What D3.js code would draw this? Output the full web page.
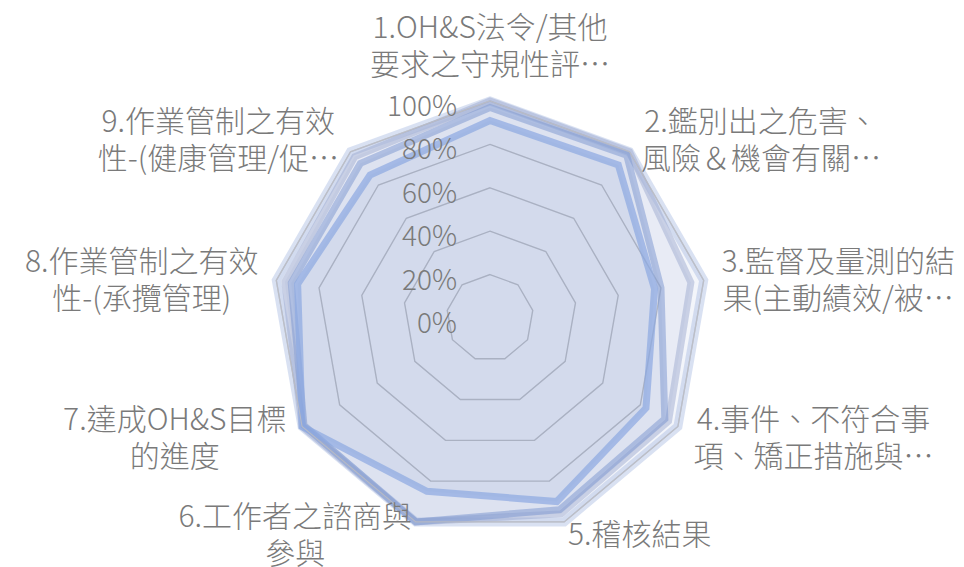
<!DOCTYPE html>
<html>
<head>
<meta charset="utf-8">
<script src="https://cdn.jsdelivr.net/npm/d3@7/dist/d3.min.js"></script>
<style>
  html, body { margin: 0; padding: 0; background: #fff; }
  svg { display: block; }
  text { font-family: "Noto Sans CJK TC", "Noto Sans", sans-serif; fill: #7a7a7a; font-weight: 300; }
</style>
</head>
<body>
<svg id="chart" width="964" height="567"></svg>
<script>
// category labels, already wrapped / truncated the way the chart shows them
const categories = [
  ["1.OH&S法令/其他", "要求之守規性評…"],
  ["2.鑑別出之危害、", "風險＆機會有關…"],
  ["3.監督及量測的結", "果(主動績效/被…"],
  ["4.事件、不符合事", "項、矯正措施與…"],
  ["5.稽核結果"],
  ["6.工作者之諮商與", "參與"],
  ["7.達成OH&S目標", "的進度"],
  ["8.作業管制之有效", "性-(承攬管理)"],
  ["9.作業管制之有效", "性-(健康管理/促…"],
];
const tickValues = [0, 0.2, 0.4, 0.6, 0.8, 1.0];

// series values (share per axis)
const seriesA = [1.00, 1.00, 1.00, 1.00, 1.00, 1.00, 1.00, 1.00, 1.00];
const seriesB = [1.00, 1.00, 0.94, 0.95, 0.96, 1.00, 1.00, 0.96, 0.97];
const seriesC = [0.97, 0.98, 0.80, 0.93, 0.94, 1.00, 0.99, 0.93, 0.93];
const seriesD = [0.91, 0.92, 0.77, 0.83, 0.90, 0.85, 1.00, 0.90, 0.86];

const svg = d3.select("#chart");
const cx = 490, cy = 318, R = 217;
const n = categories.length;

const r = d3.scaleLinear().domain([0, 1]).range([0, R]);
const angle = d3.scaleLinear().domain([0, n]).range([0, 2 * Math.PI]);

const ring = d3.lineRadial()
  .angle((d, i) => angle(i))
  .radius((d) => r(d))
  .curve(d3.curveLinearClosed);

const plot = svg.append("g").attr("transform", `translate(${cx},${cy})`);

// grid rings
plot.append("g")
  .selectAll("path")
  .data(tickValues.filter((v) => v > 0))
  .enter()
  .append("path")
  .attr("d", (v) => ring(d3.range(n).map(() => v)))
  .attr("fill", "none")
  .attr("stroke", "#c6c6c6")
  .attr("stroke-width", 1.4);

// series
const series = [
  { values: seriesA, fill: "rgba(100,125,190,0.08)", stroke: "rgba(170,188,226,0.45)", width: 9 },
  { values: seriesB, fill: "rgba(100,125,190,0.08)", stroke: "rgba(150,165,205,0.45)", width: 7 },
  { values: seriesC, fill: "rgba(100,125,190,0.08)", stroke: "rgba(130,155,210,0.55)", width: 7 },
  { values: seriesD, fill: "rgba(100,125,190,0.08)", stroke: "rgba(140,168,225,0.7)", width: 7 },
];

plot.append("g")
  .selectAll("path")
  .data(series)
  .enter()
  .append("path")
  .attr("d", (s) => ring(s.values))
  .attr("fill", (s) => s.fill)
  .attr("stroke", (s) => s.stroke)
  .attr("stroke-width", (s) => s.width)
  .attr("stroke-linejoin", "miter");

// redraw the 100% ring thin on top, it shows through the light band
plot.append("path")
  .attr("d", ring(d3.range(n).map(() => 1)))
  .attr("fill", "none")
  .attr("stroke", "rgba(190,190,195,0.8)")
  .attr("stroke-width", 1.2);

// tick labels
plot.append("g")
  .selectAll("text")
  .data(tickValues)
  .enter()
  .append("text")
  .attr("x", -33)
  .attr("y", (v) => -r(v) + 3)
  .attr("text-anchor", "end")
  .attr("dominant-baseline", "central")
  .attr("font-size", 28)
  .text((v) => d3.format(".0%")(v));

// category labels
const lineHeight = 37;
const labels = plot.append("g");
categories.forEach((lines, i) => {
  const a = angle(i);
  const sin = Math.sin(a), cos = Math.cos(a);
  const isTop = Math.abs(sin) < 0.05;
  const pad = isTop ? 21 : cos < -0.9 ? 11 : 18;
  const ax = (R + pad) * sin;
  const ay = -(R + pad) * cos;
  const g = labels.append("g");
  const texts = lines.map((line) =>
    g.append("text").attr("font-size", 30).attr("text-anchor", "middle")
      .attr("dominant-baseline", "central").text(line));
  const w = d3.max(texts, (t) => t.node().getComputedTextLength());
  let mid;
  if (isTop) mid = ax;
  else if (sin > 0) mid = ax + w / 2;
  else mid = ax - w / 2;
  const h = lines.length * lineHeight;
  const top = isTop ? ay - h : ay - h / 2;
  texts.forEach((t, j) => t.attr("x", mid).attr("y", top + lineHeight * (j + 0.5)));
});
</script>
</body>
</html>
